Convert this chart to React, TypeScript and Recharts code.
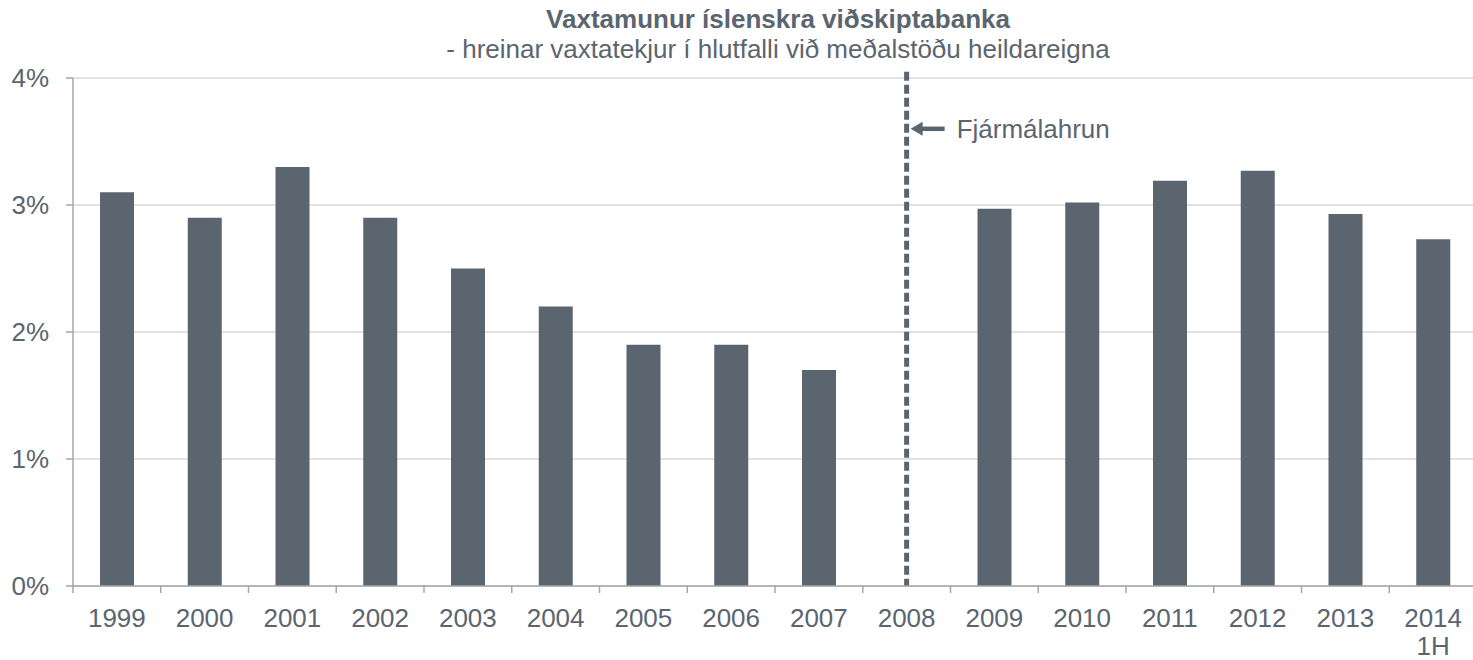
import React from 'react';
import { BarChart, Bar, XAxis, YAxis, CartesianGrid, ReferenceLine, ReferenceDot } from 'recharts';

const categories = ['1999', '2000', '2001', '2002', '2003', '2004', '2005', '2006', '2007', '2008', '2009', '2010', '2011', '2012', '2013', '2014 1H'];
const values: (number | null)[] = [3.1, 2.9, 3.3, 2.9, 2.5, 2.2, 1.9, 1.9, 1.7, null, 2.97, 3.02, 3.19, 3.27, 2.93, 2.73];
const yTicks = [0, 1, 2, 3, 4];
const title = 'Vaxtamunur íslenskra viðskiptabanka';
const subtitle = '- hreinar vaxtatekjur í hlutfalli við meðalstöðu heildareigna';
const crisisYear = '2008';
const crisisLabel = 'Fjármálahrun';

const data = categories.map((c, i) => ({ year: c, value: values[i] }));

const FONT = '"Liberation Sans", Arial, Helvetica, sans-serif';
const TEXT = '#5b6570';
const BAR = '#5b6570';
const AXIS = '#a6a6a6';
const GRID = '#d9d9d9';

const CHART_W = 1480;
const CHART_H = 660;
const Y_W = 73;
const X_H = 30;
const MARGIN = { top: 78, right: 3, bottom: 44, left: 0 };
const BAND = (CHART_W - Y_W - MARGIN.left - MARGIN.right) / categories.length;

const XTick = (props: any) => {
  const { x, y, payload, index } = props;
  const lines = String(payload.value).split(' ');
  const left = x - BAND / 2;
  return (
    <g>
      <line x1={left} y1={y} x2={left} y2={y + 7} stroke={AXIS} strokeWidth={1.5} />
      {index === categories.length - 1 && (
        <line x1={x + BAND / 2} y1={y} x2={x + BAND / 2} y2={y + 7} stroke={AXIS} strokeWidth={1.5} />
      )}
      {lines.map((l, i) => (
        <text key={i} x={x} y={y + 41 + i * 28} textAnchor="middle" fill={TEXT} fontSize={26} fontFamily={FONT}>
          {l}
        </text>
      ))}
    </g>
  );
};

const Arrow = (props: any) => {
  const { cx, cy } = props;
  if (cx == null || cy == null) return null;
  return (
    <g>
      <line x1={cx + 14} y1={cy} x2={cx + 38} y2={cy} stroke={BAR} strokeWidth={4.5} />
      <path d={`M ${cx + 4} ${cy} L ${cx + 16} ${cy - 7} L ${cx + 16} ${cy + 7} Z`} fill={BAR} />
      <text x={cx + 50} y={cy + 9} fill={TEXT} fontSize={26} fontFamily={FONT}>
        {crisisLabel}
      </text>
    </g>
  );
};

export default function App() {
  return (
    <div style={{ position: 'absolute', left: 0, top: 0, width: 1473, height: 660, overflow: 'hidden', background: '#fff' }}>
      <div style={{ position: 'absolute', left: 378, top: 6, width: 800, textAlign: 'center', fontFamily: FONT, fontSize: 26, lineHeight: '26px', fontWeight: 'bold', color: TEXT, whiteSpace: 'nowrap' }}>
        {title}
      </div>
      <div style={{ position: 'absolute', left: 378, top: 36, width: 800, textAlign: 'center', fontFamily: FONT, fontSize: 26, lineHeight: '26px', color: TEXT, whiteSpace: 'nowrap' }}>
        {subtitle}
      </div>
      <div style={{ position: 'absolute', left: 0, top: 0 }}>
        <BarChart width={CHART_W} height={CHART_H} data={data} margin={MARGIN}>
          <CartesianGrid vertical={false} stroke={GRID} strokeWidth={1.5} />
          <XAxis
            dataKey="year"
            height={X_H}
            interval={0}
            tick={<XTick />}
            tickLine={false}
            tickSize={0}
            tickMargin={0}
            axisLine={{ stroke: AXIS, strokeWidth: 1.5 }}
          />
          <YAxis
            width={Y_W}
            domain={[0, 4]}
            ticks={yTicks}
            tickFormatter={(v: number) => `${v}%`}
            tickSize={7}
            tickMargin={17}
            tickLine={{ stroke: AXIS, strokeWidth: 1.5 }}
            axisLine={{ stroke: AXIS, strokeWidth: 1.5 }}
            tick={{ fill: TEXT, fontSize: 26, fontFamily: FONT }}
            allowDataOverflow
          />
          <Bar dataKey="value" fill={BAR} barSize={34} isAnimationActive={false} />
          <ReferenceLine
            ifOverflow="visible"
            segment={[{ x: crisisYear, y: 4.05 }, { x: crisisYear, y: 0 }]}
            stroke={BAR}
            strokeWidth={5}
            strokeDasharray="9 4"
          />
          <ReferenceDot x={crisisYear} y={3.6} ifOverflow="visible" shape={<Arrow />} />
        </BarChart>
      </div>
    </div>
  );
}
